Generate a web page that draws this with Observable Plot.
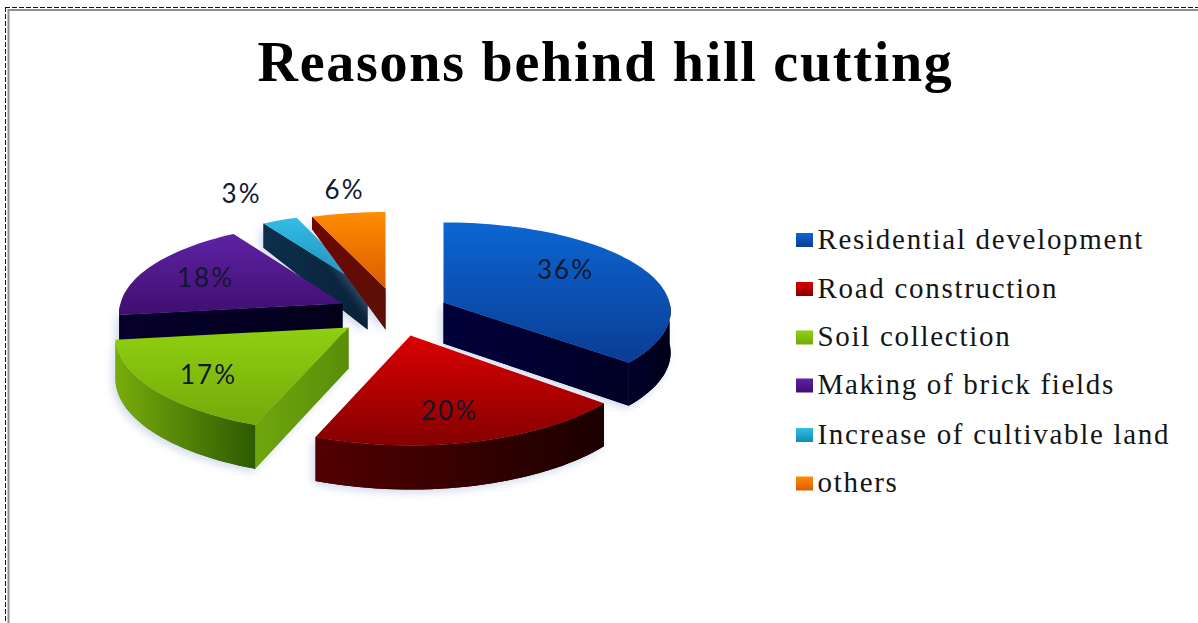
<!DOCTYPE html>
<html>
<head>
<meta charset="utf-8">
<script src="https://cdn.jsdelivr.net/npm/d3@7"></script>
<script src="https://cdn.jsdelivr.net/npm/@observablehq/plot@0.6"></script>
<style>
  html, body { margin: 0; padding: 0; background: #fff; overflow: hidden; }
  svg { display: block; }
  g[font-size="56"] { letter-spacing: 1.75px; }
  g[font-size="29"] { letter-spacing: 1.7px; }
  g[font-size="26"] { letter-spacing: 2px; }
</style>
</head>
<body>
<div id="chart"></div>
<script>
// Shares of each reason, in percent, clockwise from twelve o'clock.
const categories = [
  "Residential development",
  "Road construction",
  "Soil collection",
  "Making of brick fields",
  "Increase of cultivable land",
  "others"
];
const shares = [36, 20, 17, 18, 3, 6];

// Exploded-pie layout: tip of each wedge and its radii on screen.
const tipX = [443, 410, 348, 342, 367, 385];
const tipY = [302, 335, 327, 303, 288, 288];
const radiusX = [226, 236, 232, 222, 212, 220];
const radiusY = [89, 100, 96, 90, 84, 85];
// How quickly a wall shrinks toward the back of the pie.
const wallTaper = [3, 3, 3, 3, 20, 31];
const wallHeight = 41;
const perspective = 0.1;

// Back wedges are painted first.
const paintOrder = [4, 5, 3, 0, 1, 2];

// Face colours: top (light to dark), radial wall, outer wall (left to right).
const topShades = [
  ["#0c66d2", "#0a3c94"], ["#dc0000", "#840000"], ["#8fd010", "#75a90a"],
  ["#5f22a4", "#3f0f70"], ["#35bde6", "#0f8cb6"], ["#ff8c00", "#dc5c00"]
];
const edgeShades = [
  ["#00003a", "#000026"], ["#4a0000", "#200000"], ["#6fa60d", "#5a8d09"],
  ["#07002c", "#03001a"], ["#0c2f4c", "#0a2238"], ["#6e0500", "#5c0f08"]
];
const rimShades = [
  ["#00002c", "#000018"], ["#520000", "#1c0000"], ["#78ac0c", "#2e5a02"],
  ["#07002c", "#03001a"], ["#0c2f4c", "#0a2238"], ["#6e0500", "#5c0f08"]
];

// Percent labels and their anchors.
const labelX = [565, 449, 208, 205, 241, 344];
const labelY = [270, 411, 375, 278, 194, 190];
const labelColor = "#10182e";

// Legend rows.
const legendY = [240, 289, 337.5, 385.5, 435, 483.5];

const toRadians = Math.PI / 180;
let running = 0;
const wedges = categories.map((category, i) => {
  const start = running * 3.6;
  running += shares[i];
  return {category, i, start, end: running * 3.6};
});

// Tilted-disc projection of a point on a wedge; depth 1 is the underside.
function project(w, angle, depth = 0) {
  const a = angle * toRadians;
  const u = Math.sin(a), v = -Math.cos(a);
  const grow = 1 + perspective * v;
  const height = (wallHeight + wallTaper[w.i] * v) * depth;
  return {
    category: w.category,
    x: tipX[w.i] + radiusX[w.i] * u * grow,
    y: tipY[w.i] + radiusY[w.i] * v * grow + height
  };
}
function tip(w, depth = 0) {
  return {category: w.category, x: tipX[w.i], y: tipY[w.i] + wallHeight * depth};
}
function arc(w, from, to, depth = 0) {
  const steps = Math.max(2, Math.ceil(Math.abs(to - from) / 2));
  return d3.range(steps + 1).map((k) => project(w, from + (to - from) * k / steps, depth));
}

function topFace(w) {
  return [tip(w), ...arc(w, w.start, w.end)];
}
function edgeWall(w, angle) {
  return [tip(w), project(w, angle), project(w, angle, 1), tip(w, 1)];
}
function rimWall(w) {
  const from = Math.max(w.start, 90), to = Math.min(w.end, 270);
  if (from >= to) return null;
  return [...arc(w, from, to), ...arc(w, to, from, 1)];
}

// Walls that face the viewer for this wedge.
function wallsOf(w) {
  const walls = [];
  if (w.start > 180 && w.start < 360) walls.push({points: edgeWall(w, w.start), fill: `url(#edge${w.i})`});
  if (w.end > 0 && w.end < 180) walls.push({points: edgeWall(w, w.end), fill: `url(#edge${w.i})`});
  const rim = rimWall(w);
  if (rim) walls.push({points: rim, fill: `url(#rim${w.i})`});
  return walls;
}

// Gradient definitions shared by the wedge faces.
function gradientDefs() {
  const ns = "http://www.w3.org/2000/svg";
  const g = document.createElementNS(ns, "defs");
  const add = (id, vertical, [a, b]) => {
    const lg = document.createElementNS(ns, "linearGradient");
    lg.setAttribute("id", id);
    lg.setAttribute("x1", 0); lg.setAttribute("y1", 0);
    lg.setAttribute("x2", vertical ? 0 : 1); lg.setAttribute("y2", vertical ? 1 : 0);
    [[0, a], [1, b]].forEach(([o, c]) => {
      const s = document.createElementNS(ns, "stop");
      s.setAttribute("offset", o);
      s.setAttribute("stop-color", c);
      lg.appendChild(s);
    });
    g.appendChild(lg);
  };
  categories.forEach((_, i) => {
    add(`top${i}`, true, topShades[i]);
    add(`edge${i}`, false, edgeShades[i]);
    add(`rim${i}`, false, rimShades[i]);
  });
  return g;
}

// Faint bluish cast under the walls of the pie, laid down before the walls.
const wallShadow = "drop-shadow(-3px 3px 4px rgba(120, 145, 200, 0.35))";

const wedgeMarks = paintOrder.flatMap((i) => {
  const w = wedges[i];
  const walls = wallsOf(w);
  return [
    ...walls.map(({points, fill}) =>
      Plot.line(points, {x: "x", y: "y", fill, stroke: "none", imageFilter: wallShadow})),
    ...walls.map(({points, fill}) =>
      Plot.line(points, {x: "x", y: "y", fill, stroke: "none"})),
    Plot.line(topFace(w), {x: "x", y: "y", z: "category", fill: "category", stroke: "none"})
  ];
});

const legendRows = categories.map((category, i) => ({category, y: legendY[i]}));
const labelRows = shares.map((share, i) => ({text: `${share}%`, x: labelX[i], y: labelY[i]}));

const chart = Plot.plot({
  width: 1198,
  height: 623,
  margin: 0,
  style: {background: "#fff"},
  x: {domain: [0, 1198], range: [0, 1198], axis: null},
  y: {domain: [0, 623], range: [0, 623], axis: null},
  color: {type: "ordinal", domain: categories, range: categories.map((_, i) => `url(#top${i})`)},
  marks: [
    gradientDefs,
    // Page frame: dashed outer line with a grey line inside it.
    Plot.ruleY([9.5], {x1: 8, x2: 1198, stroke: "#8f8f8f", strokeWidth: 2}),
    Plot.ruleX([8], {y1: 9, y2: 623, stroke: "#8f8f8f", strokeWidth: 2}),
    Plot.ruleY([7], {x1: 5, x2: 1198, stroke: "#111", strokeWidth: 1, strokeDasharray: "5 2"}),
    Plot.ruleX([5], {y1: 7, y2: 623, stroke: "#111", strokeWidth: 1, strokeDasharray: "5 2"}),
    // Title
    Plot.text(["Reasons behind hill cutting"], {
      x: 257, y: 80, text: (d) => d, textAnchor: "start", lineAnchor: "bottom",
      fontFamily: "Liberation Serif", fontWeight: "bold", fontSize: 56, fill: "#000"
    }),
    ...wedgeMarks,
    // Percent labels
    Plot.text(labelRows, {
      x: "x", y: "y", text: "text", fontFamily: "Lato", fontSize: 26,
      fill: labelColor, lineAnchor: "middle"
    }),
    // Legend
    Plot.rect(legendRows, {
      x1: () => 796, x2: () => 813,
      y1: (d) => d.y - 7, y2: (d) => d.y + 7,
      fill: "category"
    }),
    Plot.text(legendRows, {
      x: () => 817, y: (d) => d.y + 8, text: "category", textAnchor: "start", lineAnchor: "bottom",
      fontFamily: "Liberation Serif", fontSize: 29, fill: "#151515"
    })
  ]
});
document.getElementById("chart").appendChild(chart);
</script>
</body>
</html>
